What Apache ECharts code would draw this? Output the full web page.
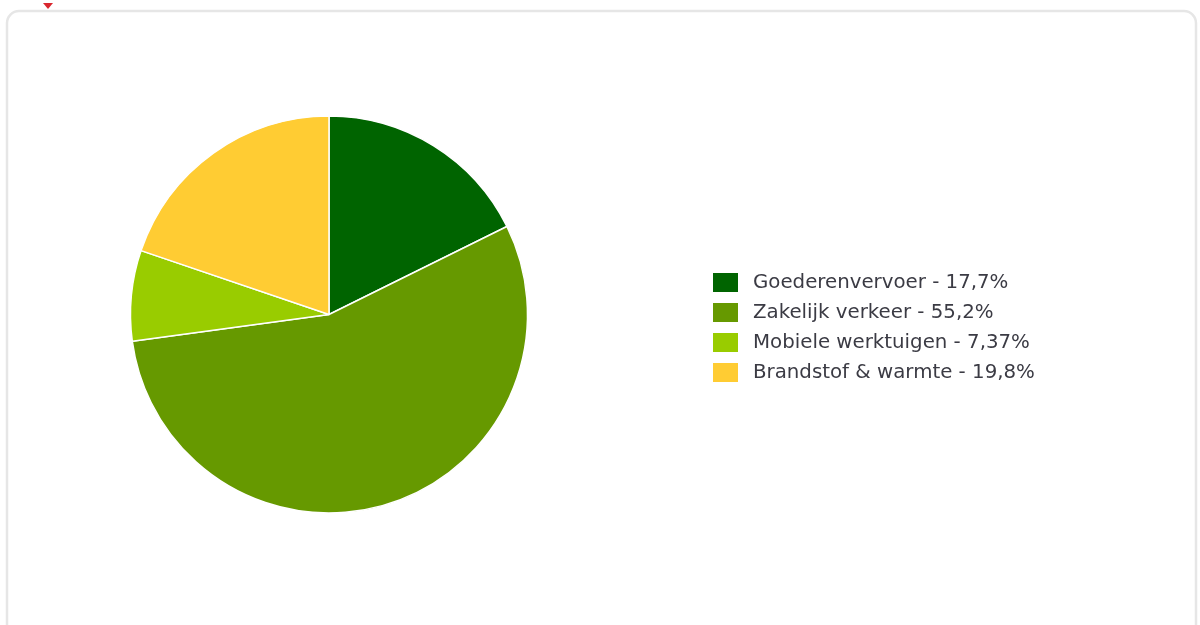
<!DOCTYPE html>
<html>
<head>
<meta charset="utf-8">
<script src="https://cdn.jsdelivr.net/npm/echarts@6/dist/echarts.min.js"></script>
<style>
  html, body { margin: 0; padding: 0; background: #ffffff; }
  #chart { width: 1200px; height: 625px; }
</style>
</head>
<body>
<div id="chart"></div>
<script>
// Shares of emissions per source (percent)
const categories = ['Goederenvervoer', 'Zakelijk verkeer', 'Mobiele werktuigen', 'Brandstof & warmte'];
const shares = [17.7, 55.2, 7.37, 19.8];
const colors = ['#006400', '#669900', '#99cc00', '#ffcc33'];

const pieData = categories.map((name, i) => ({ name: name, value: shares[i] }));
const shareByName = {};
categories.forEach((name, i) => { shareByName[name] = String(shares[i]).replace('.', ','); });

const chart = echarts.init(document.getElementById('chart'), null, { renderer: 'canvas' });
chart.setOption({
  animation: false,
  color: colors,
  graphic: [
    {
      type: 'rect',
      shape: { x: 7, y: 11, width: 1189, height: 640, r: 12 },
      style: { fill: '#ffffff', stroke: '#e6e6e6', lineWidth: 2.5 },
      z: -10
    },
    {
      type: 'polygon',
      shape: { points: [[43, 3], [53, 3], [48, 9]] },
      style: { fill: '#d9262e' },
      z: -5
    }
  ],
  legend: {
    orient: 'vertical',
    left: 711,
    top: 271,
    padding: 0,
    itemWidth: 27,
    itemHeight: 21,
    itemGap: 7,
    icon: 'rect',
    selectedMode: false,
    textStyle: {
      fontFamily: 'DejaVu Sans',
      fontSize: 19.8,
      lineHeight: 20,
      color: '#3b3b44',
      padding: [0, 0, 0, 9]
    },
    formatter: function (name) {
      return name + ' - ' + shareByName[name] + '%';
    },
    data: categories
  },
  series: [
    {
      type: 'pie',
      center: [329, 314.5],
      radius: 198.5,
      startAngle: 90,
      clockwise: true,
      label: { show: false },
      labelLine: { show: false },
      itemStyle: { borderColor: '#ffffff', borderWidth: 1.5 },
      emphasis: { disabled: true },
      data: pieData
    }
  ]
});
</script>
</body>
</html>
